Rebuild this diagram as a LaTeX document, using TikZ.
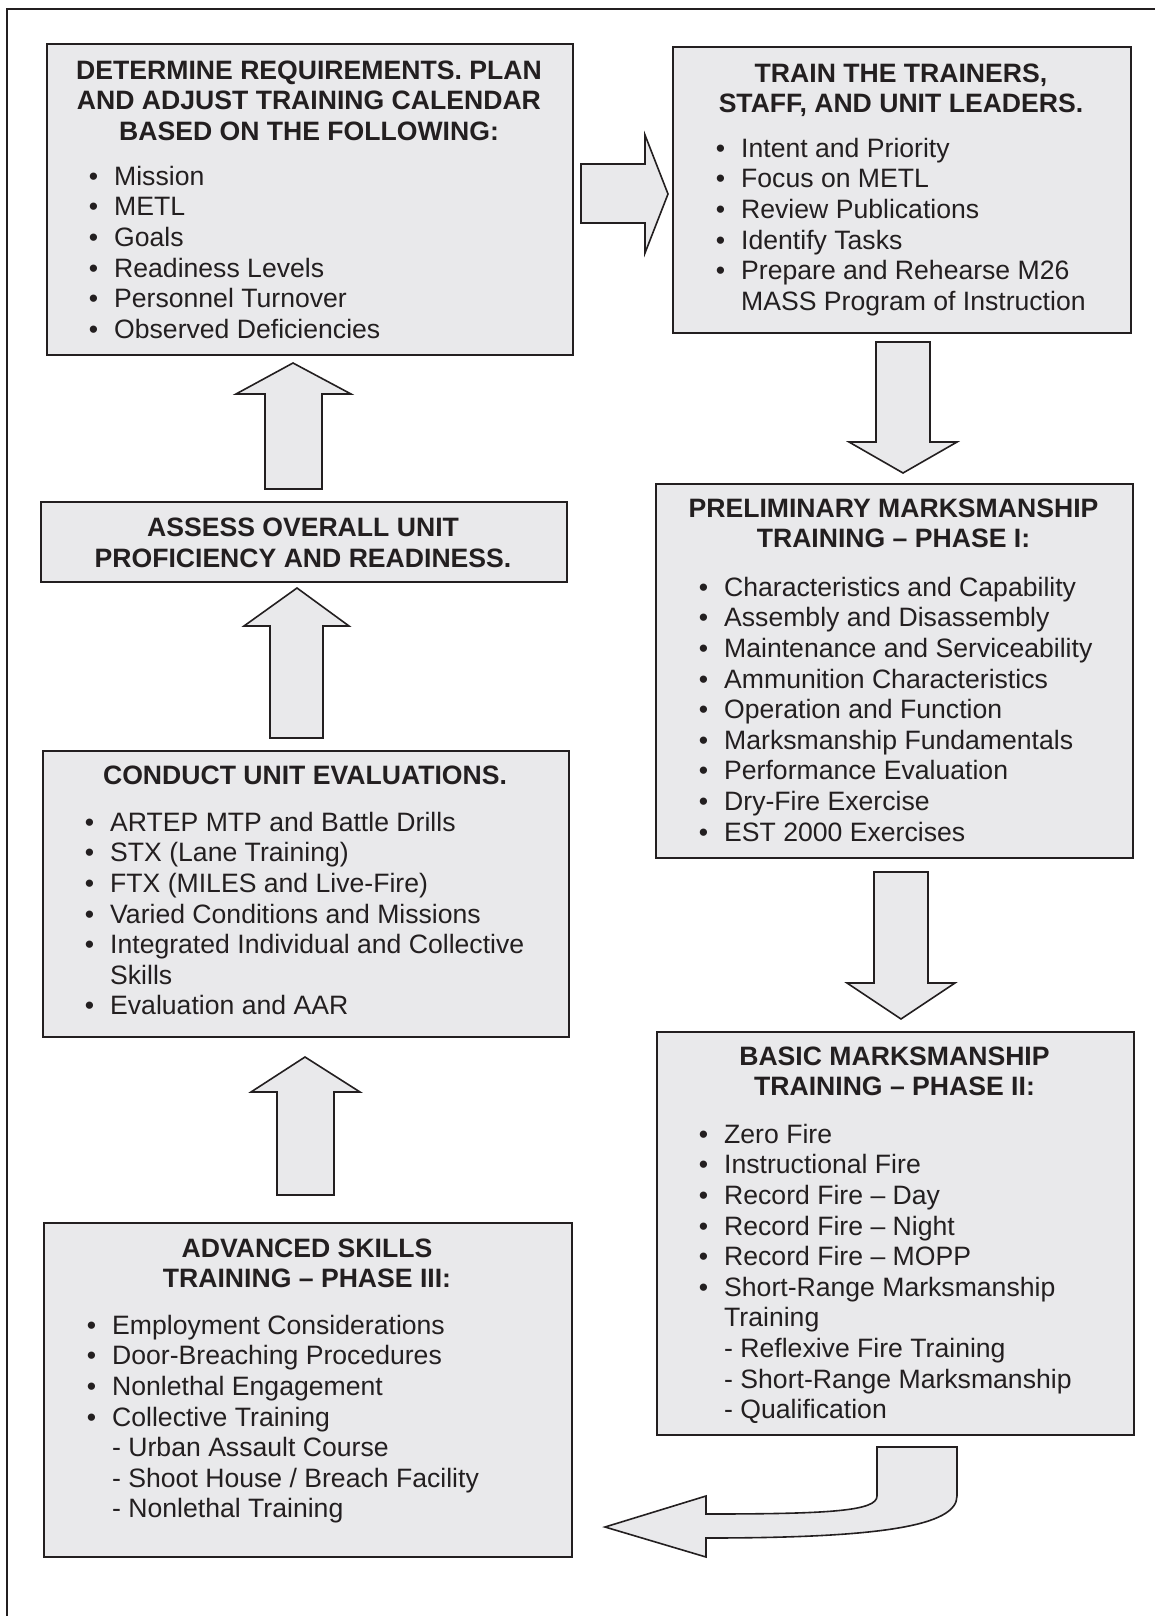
\documentclass[tikz,border=0pt]{standalone}
\usepackage{fontspec}
\setmainfont{Liberation Sans}
\definecolor{boxfill}{HTML}{E9E9EB}
\definecolor{ink}{HTML}{231F20}
\newcommand\bl{\llap{\textbullet\hspace{16pt}}}
\newcommand\fs{\rule{0pt}{24pt}}
\tikzset{
  box/.style={draw=ink, line width=2pt, fill=boxfill, anchor=north west, inner sep=0pt},
  blockarrow/.style={draw=ink, line width=1.6pt, fill=boxfill, line join=miter},
  title/.style={font=\bfseries\fontsize{26.6}{30.6}\selectfont, align=center, anchor=north, inner sep=0pt, text=ink},
  list/.style={font=\fontsize{26.6}{30.6}\selectfont, align=left, anchor=north west, inner sep=0pt, text=ink},
}
\begin{document}
\begin{tikzpicture}[x=1pt,y=-1pt]
\useasboundingbox (0,0) rectangle (1154,1616);
% outer frame (top and left visible)
\draw[ink, line width=2pt] (7,1630) -- (7,9) -- (1170,9);

% boxes
\node[box, minimum width=526pt, minimum height=311pt] (b1) at (46,43) {};
\node[box, minimum width=458pt, minimum height=286pt] (b2) at (672,46) {};
\node[box, minimum width=477pt, minimum height=374pt] (b3) at (655,483) {};
\node[box, minimum width=477pt, minimum height=403pt] (b4) at (656,1031) {};
\node[box, minimum width=528pt, minimum height=334pt] (b5) at (43,1222) {};
\node[box, minimum width=526pt, minimum height=286pt] (b6) at (42,750) {};
\node[box, minimum width=526pt, minimum height=80pt] (b7) at (40,501) {};

% titles
\node[title] (t1) at (309,55) {\fs DETERMINE REQUIREMENTS. PLAN\\AND ADJUST TRAINING CALENDAR\\BASED ON THE FOLLOWING:};
\node[title] (t2) at (901,58) {\fs TRAIN THE TRAINERS,\\STAFF, AND UNIT LEADERS.};
\node[title] (t3) at (893.5,493) {\fs PRELIMINARY MARKSMANSHIP\\TRAINING – PHASE I:};
\node[title] (t4) at (894.5,1041) {\fs BASIC MARKSMANSHIP\\TRAINING – PHASE II:};
\node[title] (t5) at (307,1233) {\fs ADVANCED SKILLS\\TRAINING – PHASE III:};
\node[title] (t6) at (305,760.5) {\fs CONDUCT UNIT EVALUATIONS.};
\node[title] (t7) at (303,512.5) {\fs ASSESS OVERALL UNIT\\PROFICIENCY AND READINESS.};

% lists
\node[list] (l1) at (114,161) {\fs\bl Mission\\\bl METL\\\bl Goals\\\bl Readiness Levels\\\bl Personnel Turnover\\\bl Observed Deficiencies};
\node[list] (l2) at (741,133) {\fs\bl Intent and Priority\\\bl Focus on METL\\\bl Review Publications\\\bl Identify Tasks\\\bl Prepare and Rehearse M26\\MASS Program of Instruction};
\node[list] (l3) at (724,572) {\fs\bl Characteristics and Capability\\\bl Assembly and Disassembly\\\bl Maintenance and Serviceability\\\bl Ammunition Characteristics\\\bl Operation and Function\\\bl Marksmanship Fundamentals\\\bl Performance Evaluation\\\bl Dry-Fire Exercise\\\bl EST 2000 Exercises};
\node[list] (l4) at (724,1119) {\fs\bl Zero Fire\\\bl Instructional Fire\\\bl Record Fire – Day\\\bl Record Fire – Night\\\bl Record Fire – MOPP\\\bl Short-Range Marksmanship\\Training\\- Reflexive Fire Training\\- Short-Range Marksmanship\\- Qualification};
\node[list] (l5) at (112,1310) {\fs\bl Employment Considerations\\\bl Door-Breaching Procedures\\\bl Nonlethal Engagement\\\bl Collective Training\\- Urban Assault Course\\- Shoot House / Breach Facility\\- Nonlethal Training};
\node[list] (l6) at (110,807) {\fs\bl ARTEP MTP and Battle Drills\\\bl STX (Lane Training)\\\bl FTX (MILES and Live-Fire)\\\bl Varied Conditions and Missions\\\bl Integrated Individual and Collective\\Skills\\\bl Evaluation and AAR};

% block arrows
% b1 -> b2 (right)
\draw[blockarrow] (581,164) -- (645,164) -- (645,135) -- (668,194) -- (645,253) -- (645,223) -- (581,223) -- cycle;
% b2 -> b3 (down)
\draw[blockarrow] (876,342) -- (930,342) -- (930,442) -- (957,442) -- (903,473) -- (849,442) -- (876,442) -- cycle;
% b3 -> b4 (down)
\draw[blockarrow] (874,872) -- (928,872) -- (928,983) -- (955,983) -- (901,1019) -- (847,983) -- (874,983) -- cycle;
% b4 -> b5 (curved, left)
\draw[blockarrow] (877,1447) -- (957,1447) -- (957,1496) .. controls (957,1526) and (880,1538) .. (706,1538) -- (706,1557) -- (605,1527) -- (706,1496) -- (706,1514) .. controls (830,1514) and (877,1511) .. (877,1496) -- cycle;
% b5 -> b6 (up)
\draw[blockarrow] (277,1195) -- (334,1195) -- (334,1092) -- (360,1092) -- (305,1057) -- (251,1092) -- (277,1092) -- cycle;
% b6 -> b7 (up)
\draw[blockarrow] (270,738) -- (323,738) -- (323,626) -- (349,626) -- (297,588) -- (244,626) -- (270,626) -- cycle;
% b7 -> b1 (up)
\draw[blockarrow] (265,489) -- (322,489) -- (322,394) -- (351,394) -- (293,363) -- (236,394) -- (265,394) -- cycle;
\end{tikzpicture}
\end{document}
